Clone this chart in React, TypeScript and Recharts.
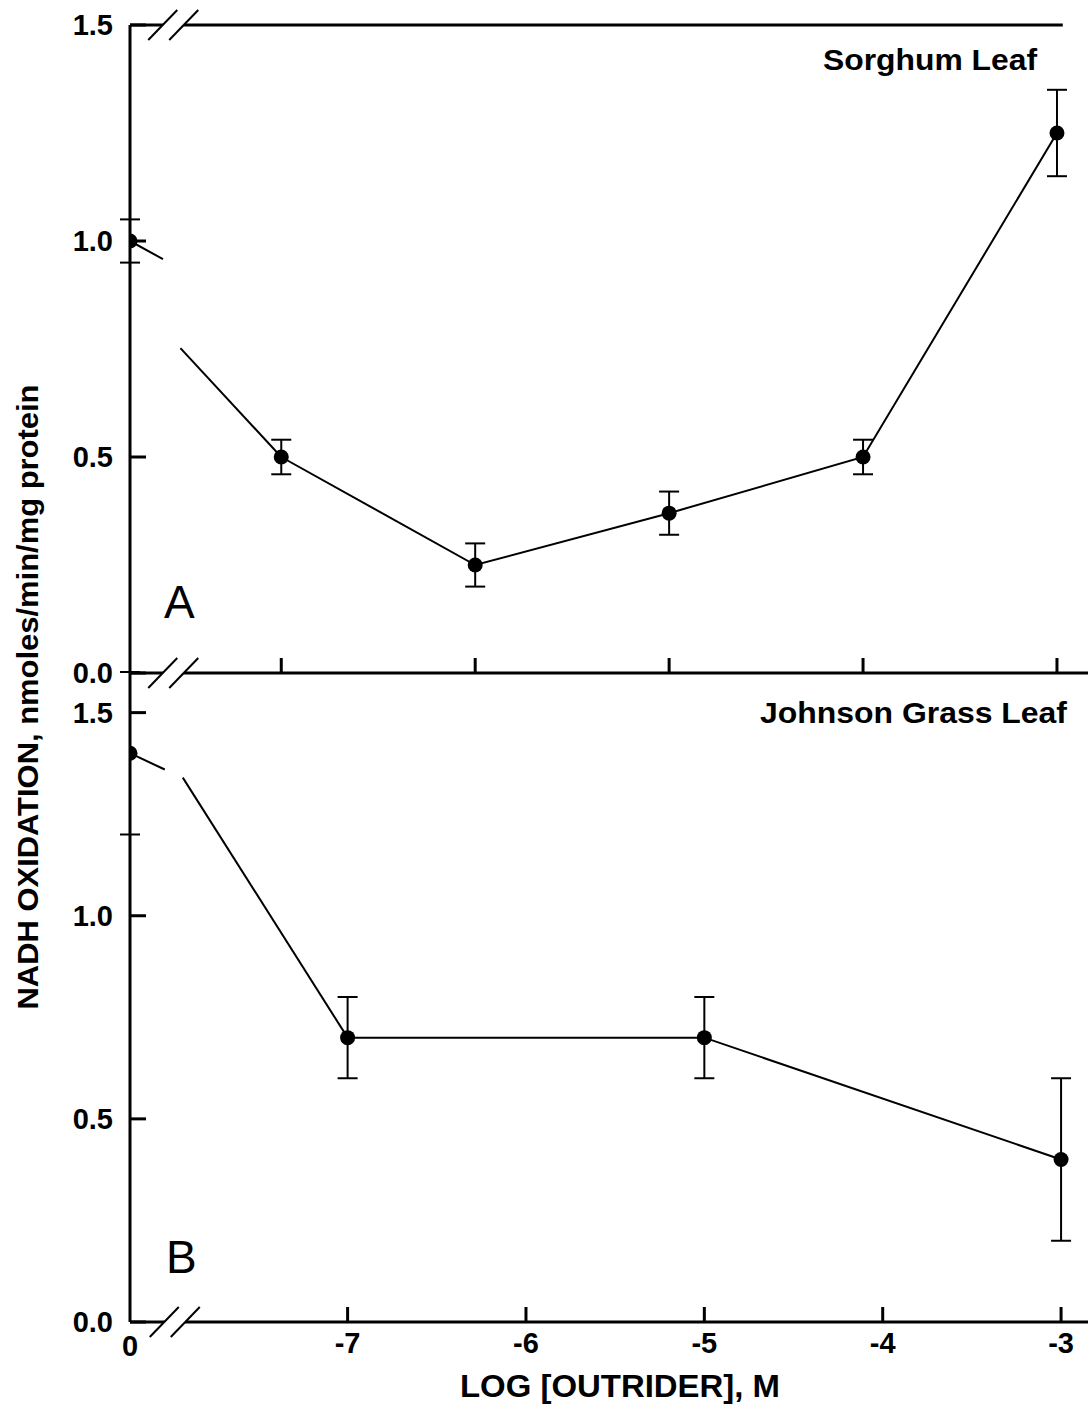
import React from 'react'
import { LineChart, Line, XAxis, YAxis, ErrorBar, ReferenceLine, ReferenceDot } from 'recharts'

// Panel A: sorghum leaf (no tick labels on its own x axis)
const SORGHUM_CONTROL_X = -7.78
const SORGHUM_CONTROL_Y = 1.0
const SORGHUM_CONTROL_ERR = 0.05
const SORGHUM_LOG = [-7, -6, -5, -4, -3]
const SORGHUM_RATE = [0.5, 0.25, 0.37, 0.5, 1.25]
const SORGHUM_ERR = [0.04, 0.05, 0.05, 0.04, 0.1]
// the control line is drawn broken across the axis break
const SORGHUM_STUB_X = [-7.61, -7.52]
const SORGHUM_STUB_Y = [0.958, 0.752]

// Panel B: johnson grass leaf
const JOHNSON_CONTROL_X = -8.22
const JOHNSON_CONTROL_Y = 1.4
const JOHNSON_CONTROL_ERR = 0.2
const JOHNSON_LOG = [-7, -5, -3]
const JOHNSON_RATE = [0.7, 0.7, 0.4]
const JOHNSON_ERR = [0.1, 0.1, 0.2]
const JOHNSON_STUB_X = [-8.025, -7.924]
const JOHNSON_STUB_Y = [1.36, 1.34]

const Y_TICKS = [0, 0.5, 1, 1.5]
const X_TICKS = [-7, -6, -5, -4, -3]

const FONT = '"Liberation Sans", Arial, Helvetica, sans-serif'
const INK = '#000'

const sorghumPoints = SORGHUM_LOG.map((x, i) => ({ x, y: SORGHUM_RATE[i], err: SORGHUM_ERR[i] }))
const sorghumControl = [{ x: SORGHUM_CONTROL_X, y: SORGHUM_CONTROL_Y, err: SORGHUM_CONTROL_ERR }]
const sorghumStub1 = [
  { x: SORGHUM_CONTROL_X, y: SORGHUM_CONTROL_Y },
  { x: SORGHUM_STUB_X[0], y: SORGHUM_STUB_Y[0] },
]
const sorghumStub2 = [
  { x: SORGHUM_STUB_X[1], y: SORGHUM_STUB_Y[1] },
  { x: SORGHUM_LOG[0], y: SORGHUM_RATE[0] },
]

const johnsonPoints = JOHNSON_LOG.map((x, i) => ({ x, y: JOHNSON_RATE[i], err: JOHNSON_ERR[i] }))
const johnsonControl = [{ x: JOHNSON_CONTROL_X, y: JOHNSON_CONTROL_Y, err: JOHNSON_CONTROL_ERR }]
const johnsonStub1 = [
  { x: JOHNSON_CONTROL_X, y: JOHNSON_CONTROL_Y },
  { x: JOHNSON_STUB_X[0], y: JOHNSON_STUB_Y[0] },
]
const johnsonStub2 = [
  { x: JOHNSON_STUB_X[1], y: JOHNSON_STUB_Y[1] },
  { x: JOHNSON_LOG[0], y: JOHNSON_RATE[0] },
]

const dotStyle = { r: 7.5, fill: INK, stroke: INK, strokeWidth: 0 }

function YTick(props: any) {
  const { x, y, payload } = props
  return (
    <g>
      <line x1={x} x2={x + 16} y1={y} y2={y} stroke={INK} strokeWidth={3} />
      <text x={x - 17} y={y} textAnchor="end" dominantBaseline="central"
        fontFamily={FONT} fontWeight="bold" fontSize={29} fill={INK}>
        {Number(payload.value).toFixed(1)}
      </text>
    </g>
  )
}

function TickOnly(props: any) {
  const { x, y } = props
  return <line x1={x} x2={x} y1={y} y2={y - 15} stroke={INK} strokeWidth={3} />
}

function JohnsonXTick(props: any) {
  const { x, y, payload } = props
  const isControl = payload.value === JOHNSON_CONTROL_X
  return (
    <g>
      {!isControl && <line x1={x} x2={x} y1={y} y2={y - 15} stroke={INK} strokeWidth={3} />}
      <text x={x} y={y + (isControl ? 34 : 31)} textAnchor="middle" fontFamily={FONT} fontWeight="bold"
        fontSize={29} fill={INK}>
        {isControl ? '0' : String(payload.value)}
      </text>
    </g>
  )
}

// the // axis-break mark, with the axis line blanked between the strokes
function BreakMark(props: any) {
  const { cx, cy } = props
  const h = 15
  const w = 14.5
  const g = 10.5
  const m = 4
  const k = (w / h) * m
  return (
    <g>
      <polygon
        points={`${cx - g + k},${cy - m} ${cx + g + k},${cy - m} ${cx + g - k},${cy + m} ${cx - g - k},${cy + m}`}
        fill="#fff"
      />
      <line x1={cx - g - w} y1={cy + h} x2={cx - g + w} y2={cy - h} stroke={INK} strokeWidth={2} />
      <line x1={cx + g - w} y1={cy + h} x2={cx + g + w} y2={cy - h} stroke={INK} strokeWidth={2} />
    </g>
  )
}

const axisLine = { stroke: INK, strokeWidth: 3 }

function SorghumPanel() {
  return (
    <LineChart width={1088} height={700} margin={{ top: 25, right: 0, bottom: 26, left: 0 }}>
      <XAxis type="number" dataKey="x" domain={[SORGHUM_CONTROL_X, -2.84]} allowDataOverflow
        ticks={X_TICKS} interval={0} tick={<TickOnly />} tickLine={false} tickSize={0} tickMargin={0}
        height={1} axisLine={axisLine} />
      <YAxis type="number" domain={[0, 1.5]} allowDataOverflow ticks={Y_TICKS} interval={0}
        tick={<YTick />} tickLine={false} tickSize={0} tickMargin={0} width={130} axisLine={axisLine} />
      <ReferenceLine stroke={INK} strokeWidth={3}
        segment={[{ x: SORGHUM_CONTROL_X, y: 1.5 }, { x: -2.97, y: 1.5 }]} />
      <Line data={sorghumStub1} dataKey="y" stroke={INK} strokeWidth={2} dot={false} isAnimationActive={false} />
      <Line data={sorghumStub2} dataKey="y" stroke={INK} strokeWidth={2} dot={false} isAnimationActive={false} />
      <Line data={sorghumPoints} dataKey="y" stroke={INK} strokeWidth={2} dot={dotStyle} isAnimationActive={false}>
        <ErrorBar dataKey="err" direction="y" width={10} stroke={INK} strokeWidth={2} isAnimationActive={false} />
      </Line>
      <Line data={sorghumControl} dataKey="y" stroke={INK} strokeWidth={2} dot={dotStyle} isAnimationActive={false}>
        <ErrorBar dataKey="err" direction="y" width={10} stroke={INK} strokeWidth={2} isAnimationActive={false} />
      </Line>
      <ReferenceDot x={-7.557} y={1.5} r={1} ifOverflow="visible" shape={<BreakMark />} zIndex={1000} />
      <ReferenceDot x={-7.557} y={0} r={1} ifOverflow="visible" shape={<BreakMark />} zIndex={1000} />
    </LineChart>
  )
}

function JohnsonPanel() {
  return (
    <LineChart width={1088} height={805} margin={{ top: 72, right: 0, bottom: 82, left: 0 }}>
      <XAxis type="number" dataKey="x" domain={[JOHNSON_CONTROL_X, -2.849]} allowDataOverflow
        ticks={[JOHNSON_CONTROL_X, ...X_TICKS]} interval={0} tick={<JohnsonXTick />} tickLine={false}
        tickSize={0} tickMargin={0} height={1} axisLine={axisLine} />
      <YAxis type="number" domain={[0, 1.6]} allowDataOverflow ticks={Y_TICKS} interval={0}
        tick={<YTick />} tickLine={false} tickSize={0} tickMargin={0} width={130} axisLine={axisLine} />
      <Line data={johnsonStub1} dataKey="y" stroke={INK} strokeWidth={2} dot={false} isAnimationActive={false} />
      <Line data={johnsonStub2} dataKey="y" stroke={INK} strokeWidth={2} dot={false} isAnimationActive={false} />
      <Line data={johnsonPoints} dataKey="y" stroke={INK} strokeWidth={2} dot={dotStyle} isAnimationActive={false}>
        <ErrorBar dataKey="err" direction="y" width={10} stroke={INK} strokeWidth={2} isAnimationActive={false} />
      </Line>
      <Line data={johnsonControl} dataKey="y" stroke={INK} strokeWidth={2} dot={dotStyle} isAnimationActive={false}>
        <ErrorBar dataKey="err" direction="y" width={10} stroke={INK} strokeWidth={2} isAnimationActive={false} />
      </Line>
      <ReferenceDot x={-7.969} y={0} r={1} ifOverflow="visible" shape={<BreakMark />} zIndex={1000} />
    </LineChart>
  )
}

export default function App() {
  return (
    <div style={{ position: 'absolute', left: 0, top: 0, width: 1088, height: 1405, background: '#fff', overflow: 'hidden' }}>
      <div style={{ position: 'absolute', left: 0, top: 0 }}>
        <SorghumPanel />
      </div>
      <div style={{ position: 'absolute', left: 0, top: 600 }}>
        <JohnsonPanel />
      </div>
      <svg width={1088} height={1405} style={{ position: 'absolute', left: 0, top: 0, pointerEvents: 'none' }}>
        <g fontFamily={FONT} fill={INK}>
          <text x={1037} y={70} textAnchor="end" fontWeight="bold" fontSize={30}
            textLength={214} lengthAdjust="spacingAndGlyphs">Sorghum Leaf</text>
          <text x={1067} y={723} textAnchor="end" fontWeight="bold" fontSize={30}
            textLength={307} lengthAdjust="spacingAndGlyphs">Johnson Grass Leaf</text>
          <text x={164} y={618} fontSize={46}>A</text>
          <text x={166} y={1273} fontSize={46}>B</text>
          <text x={620} y={1397} textAnchor="middle" fontWeight="bold" fontSize={31}
            textLength={320} lengthAdjust="spacingAndGlyphs">LOG [OUTRIDER], M</text>
          <text transform="translate(38 697) rotate(-90)" textAnchor="middle" fontWeight="bold" fontSize={30}
            textLength={625} lengthAdjust="spacingAndGlyphs">
            NADH OXIDATION, nmoles/min/mg protein
          </text>
        </g>
      </svg>
    </div>
  )
}
